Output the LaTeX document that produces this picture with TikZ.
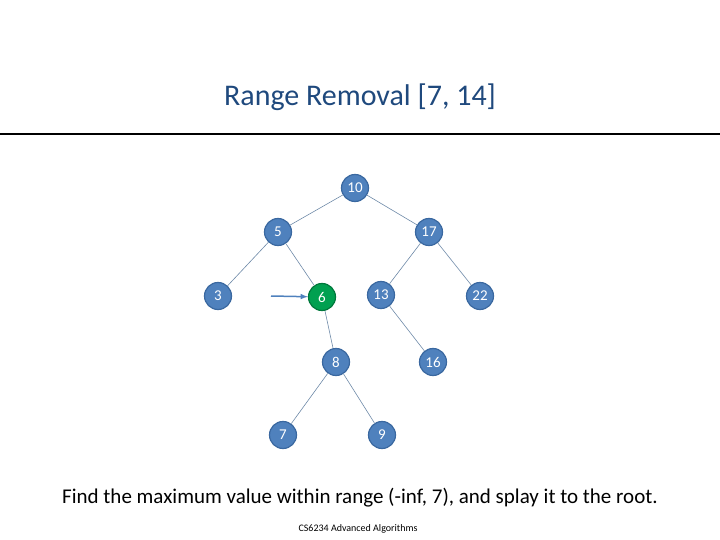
\documentclass[tikz,border=0pt]{standalone}
\usepackage{fontspec}
\setmainfont{Carlito}
\begin{document}
\begin{tikzpicture}[x=1pt,y=-1pt,
  nd/.style={circle,draw=nodeb,fill=nodef,line width=1.2pt,minimum size=27pt,inner sep=0pt,text=white,font=\fontsize{15}{15}\selectfont},
  ed/.style={draw=edgec,line width=0.6pt}]
\definecolor{nodef}{HTML}{4F81BD}
\definecolor{nodeb}{HTML}{3A68A0}
\definecolor{edgec}{HTML}{6E8AA8}
\definecolor{titlec}{HTML}{1F497D}
\useasboundingbox (0,0) rectangle (720,540);
\node[text=titlec,font=\fontsize{30}{30}\selectfont] (title) at (360,97) {Range Removal [7, 14]};
\draw[line width=1.5pt] (0,134) -- (720,134);
\node[nd] (n10) at (355,188) {10};
\node[nd] (n5) at (278,232) {5};
\node[nd] (n17) at (429,232) {17};
\node[nd] (n3) at (218,296) {3};
\node[nd,fill={rgb,255:red,0;green,160;blue,80},draw={rgb,255:red,0;green,120;blue,60}] (n6) at (322,297) {6};
\node[nd] (n13) at (381,295) {13};
\node[nd] (n22) at (480,296) {22};
\node[nd] (n8) at (336,362) {8};
\node[nd] (n16) at (433,362) {16};
\node[nd] (n7) at (283,435) {7};
\node[nd] (n9) at (382,435) {9};
\draw[ed] (n10)--(n5); \draw[ed] (n10)--(n17);
\draw[ed] (n5)--(n3); \draw[ed] (n5)--(n6);
\draw[ed] (n17)--(n13); \draw[ed] (n17)--(n22);
\draw[ed] (n6)--(n8); \draw[ed] (n13)--(n16);
\draw[ed] (n8)--(n7); \draw[ed] (n8)--(n9);
\coordinate (as) at (271,296);
\draw[draw=nodef,line width=1.5pt,-latex] (as) -- (n6);
\node[font=\fontsize{21}{21}\selectfont] (cap) at (360,498) {Find the maximum value within range (-inf, 7), and splay it to the root.};
\node[font=\fontsize{10}{10}\selectfont] (foot) at (358,529) {CS6234 Advanced Algorithms};
\end{tikzpicture}
\end{document}
